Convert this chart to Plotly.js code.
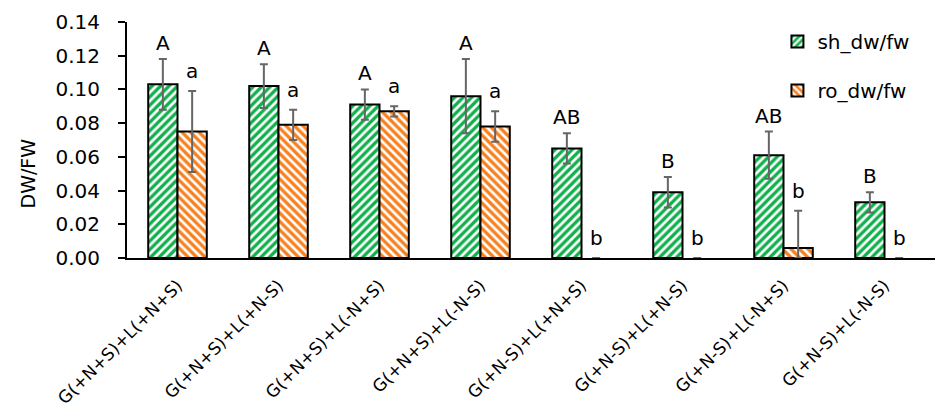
<!DOCTYPE html>
<html>
<head>
<meta charset="utf-8">
<script src="https://cdn.plot.ly/plotly-3.0.1.min.js"></script>
<style>html,body{margin:0;padding:0;background:#fff;}#chart{width:935px;height:408px;}</style>
</head>
<body>
<div id="chart"></div>
<script>
// ---- data ----
const categories = ["G(+N+S)+L(+N+S)","G(+N+S)+L(+N-S)","G(+N+S)+L(-N+S)","G(+N+S)+L(-N-S)",
                    "G(+N-S)+L(+N+S)","G(+N-S)+L(+N-S)","G(+N-S)+L(-N+S)","G(+N-S)+L(-N-S)"];
const shValues = [0.103, 0.102, 0.091, 0.096, 0.065, 0.039, 0.061, 0.033];
const shErrors = [0.015, 0.013, 0.009, 0.022, 0.009, 0.009, 0.014, 0.006];
const roValues = [0.075, 0.079, 0.087, 0.078, 0, 0, 0.006, 0];
const roErrors = [0.024, 0.009, 0.003, 0.009, 0, 0, 0.022, 0];
const shLetters = ["A","A","A","A","AB","B","AB","B"];
const roLetters = ["a","a","a","a","b","b","b","b"];
const seriesNames = ["sh_dw/fw","ro_dw/fw"];

// ---- styling ----
const GREEN = "#12B04C", ORANGE = "#F7801F";
const FONT = "DejaVu Sans";
const bargap = 0.42;
const half = (1 - bargap) / 4;

const roMinus = roValues.map((v, i) => Math.min(v, roErrors[i]));
const roLineW = roValues.map(v => (v > 0 ? 2 : 0));

const traces = [
  {
    type: "bar", name: seriesNames[0], x: categories, y: shValues,
    legendgroup: "g1",
    marker: {color: GREEN, line: {color: "#000", width: 2},
             pattern: {shape: "/", bgcolor: GREEN, fgcolor: "#fff", size: 6, solidity: 0.45}},
    error_y: {type: "data", array: shErrors, visible: true, color: "#666", thickness: 2, width: 4}
  },
  {
    type: "bar", name: seriesNames[1], x: categories, y: roValues,
    legendgroup: "g2",
    marker: {color: ORANGE, line: {color: "#000", width: roLineW},
             pattern: {shape: "\\", bgcolor: ORANGE, fgcolor: "#fff", size: 6, solidity: 0.45}},
    error_y: {type: "data", symmetric: false, array: roErrors, arrayminus: roMinus, visible: true,
              color: "#666", thickness: 2, width: 4}
  }
];

const annotations = [];
categories.forEach((c, i) => {
  annotations.push({x: i - half, y: shValues[i] + shErrors[i], xref: "x", yref: "y",
    text: shLetters[i], showarrow: false, yanchor: "bottom", yshift: 2,
    font: {family: FONT, size: 20, color: "#000"}});
  annotations.push({x: i + half, y: roValues[i] + roErrors[i], xref: "x", yref: "y",
    text: roLetters[i], showarrow: false, yanchor: "bottom", yshift: 6,
    font: {family: FONT, size: 20, color: "#000"}});
});
annotations.push({x: -0.122, y: 0.36, xref: "paper", yref: "paper", text: "DW/FW",
  textangle: -90, showarrow: false, xanchor: "center", yanchor: "middle",
  font: {family: FONT, size: 19, color: "#000"}});

const layout = {
  width: 935, height: 408,
  margin: {l: 127, r: 0, t: 22, b: 150},
  paper_bgcolor: "#fff", plot_bgcolor: "#fff",
  barmode: "group", bargap: bargap, bargroupgap: 0,
  font: {family: FONT, color: "#000"},
  showlegend: true,
  legend: {x: 0.805, y: 1.0, xanchor: "left", yanchor: "top", traceorder: "grouped",
           tracegroupgap: 20, font: {family: FONT, size: 20, color: "#000"},
           bgcolor: "rgba(0,0,0,0)", itemwidth: 30},
  xaxis: {type: "category", range: [-0.5, 7.5], showline: true, linecolor: "#000", linewidth: 2,
          ticks: "", tickangle: -45, showgrid: false, zeroline: false, ticklabelstandoff: 9,
          tickfont: {family: FONT, size: 17, color: "#000"}},
  yaxis: {range: [0, 0.14], dtick: 0.02, tickformat: ".2f", showline: true, linecolor: "#000",
          linewidth: 2, ticks: "outside", ticklen: 7, tickwidth: 2, tickcolor: "#000",
          showgrid: false, zeroline: false, ticklabelstandoff: 14,
          tickfont: {family: FONT, size: 20, color: "#000"}},
  annotations: annotations
};

Plotly.newPlot("chart", traces, layout, {displayModeBar: false, staticPlot: true});
</script>
</body>
</html>
